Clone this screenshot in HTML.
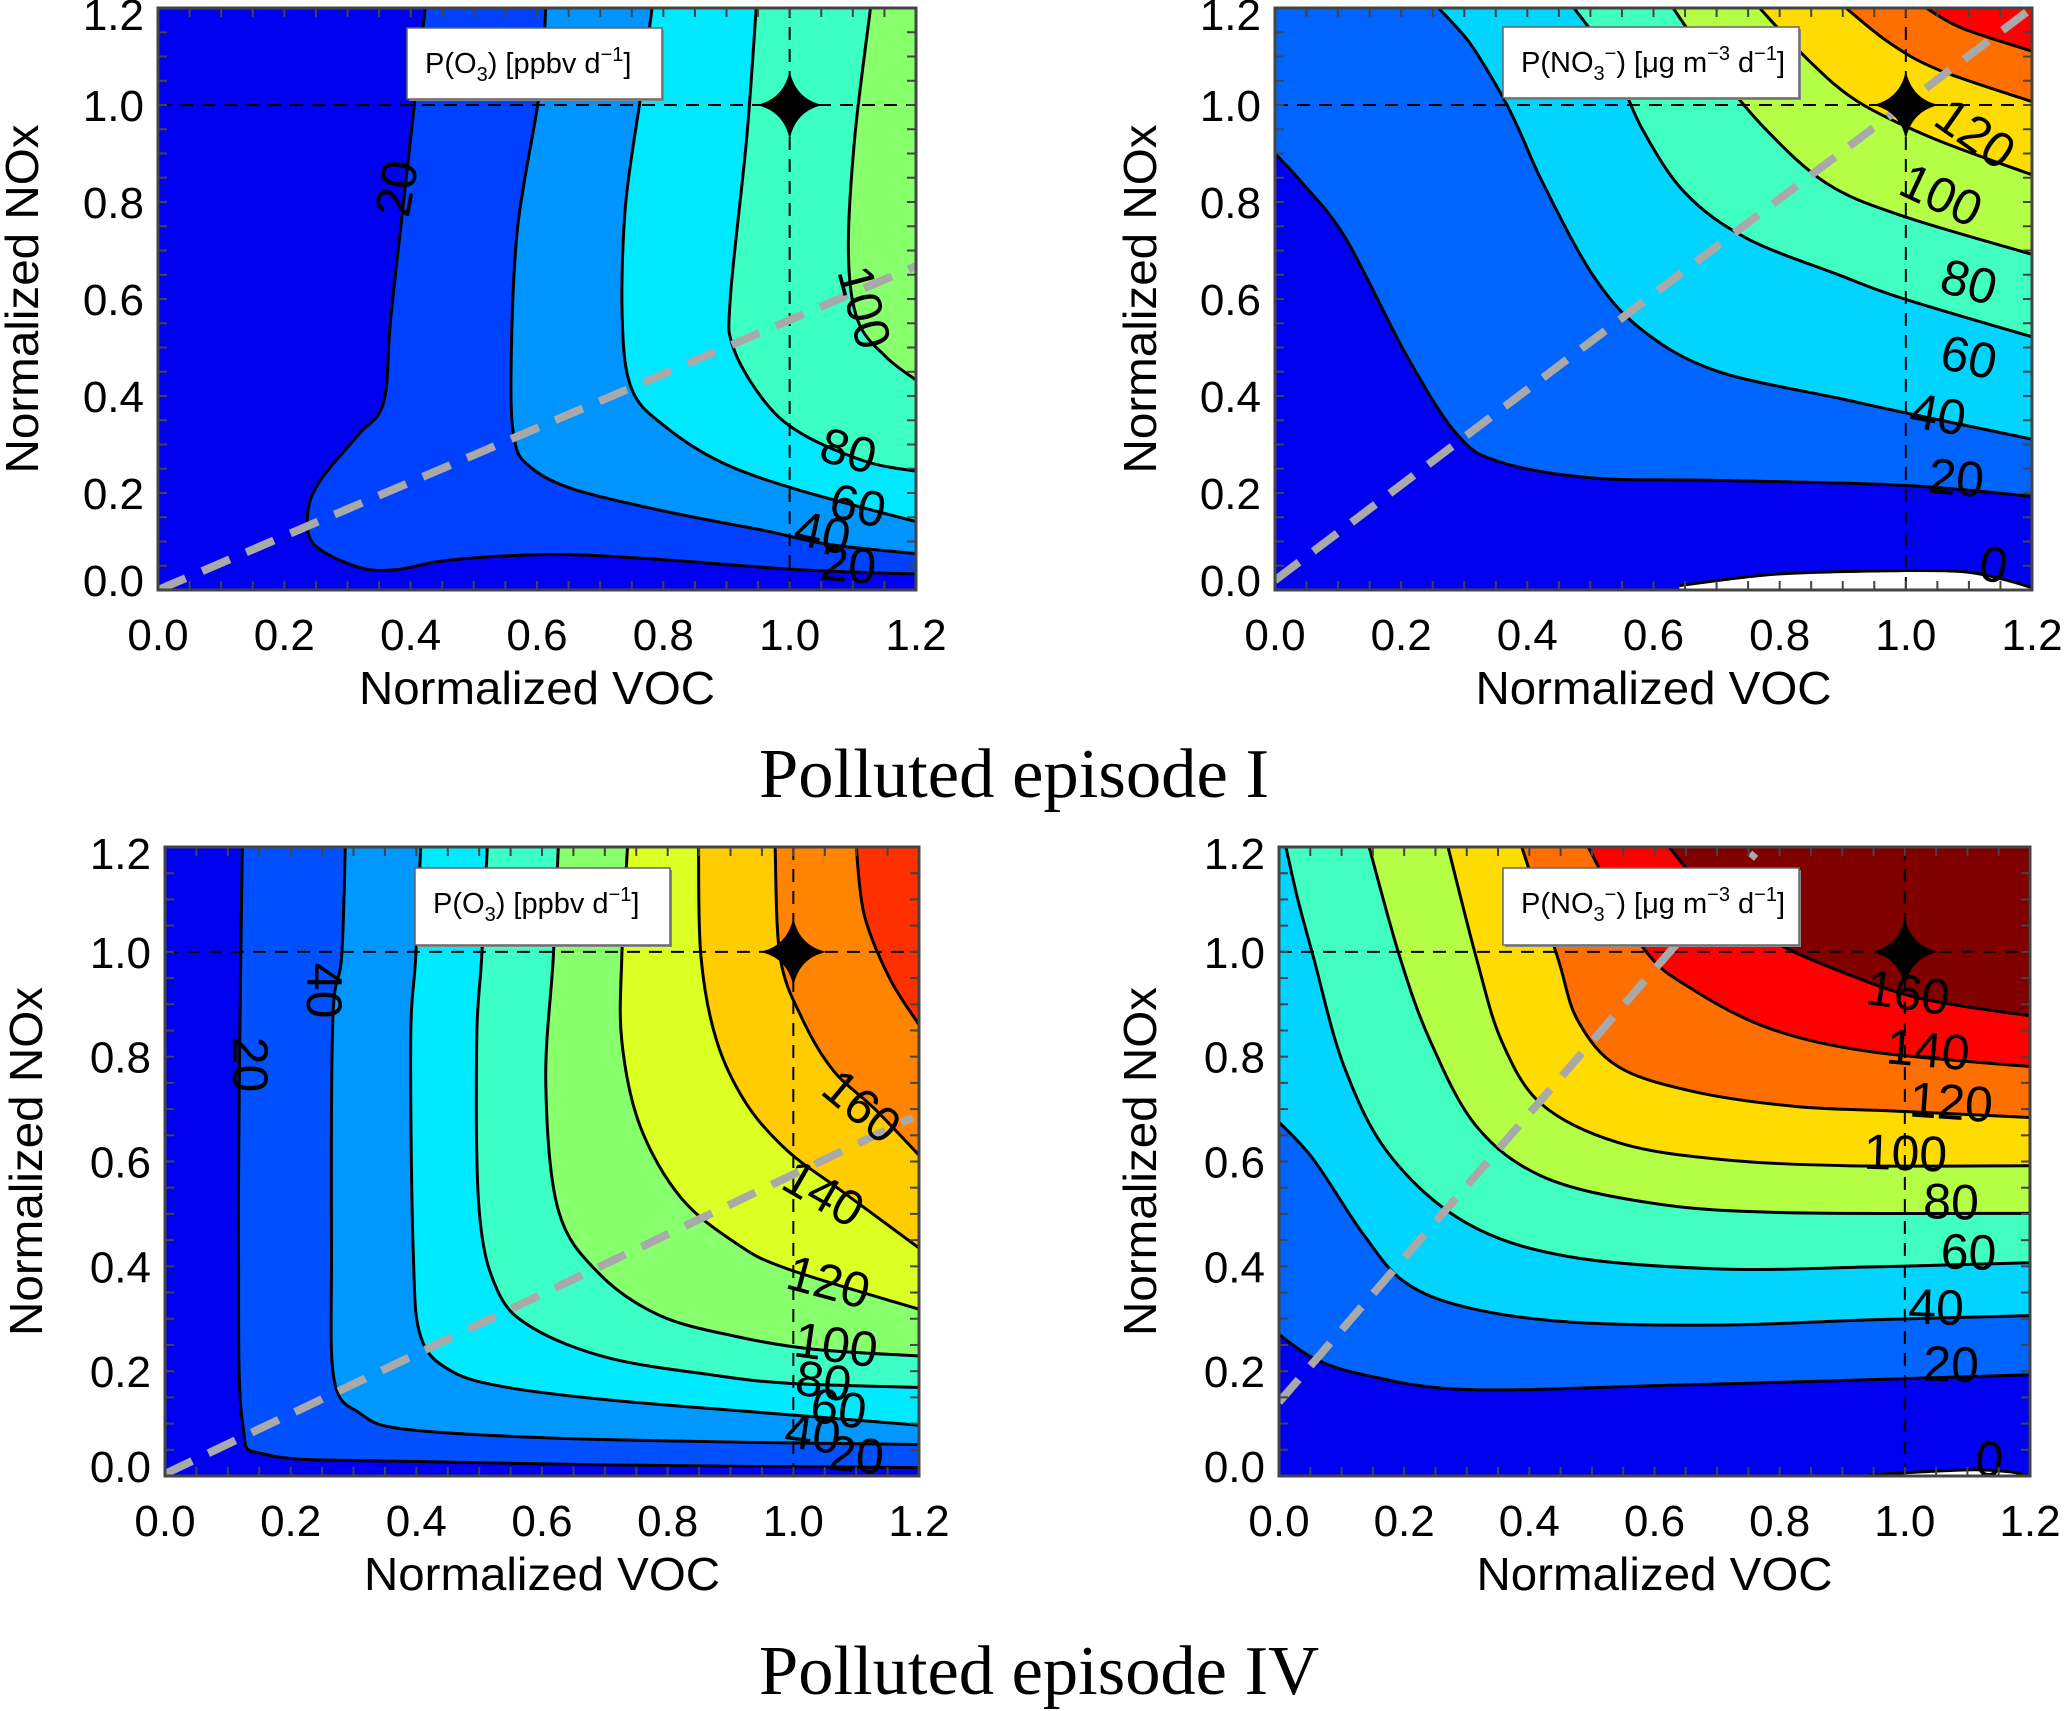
<!DOCTYPE html>
<html><head><meta charset="utf-8"><title>Ozone and nitrate production isopleths</title>
<style>
html,body{margin:0;padding:0;background:#fff;}
svg{display:block;}
text{font-family:"Liberation Sans",sans-serif;}
</style></head>
<body>
<svg id="fig" xmlns="http://www.w3.org/2000/svg" width="2067" height="1711" viewBox="0 0 2067 1711">
<text x="1014" y="797" font-family="Liberation Serif, serif" font-size="70" text-anchor="middle" textLength="510" lengthAdjust="spacingAndGlyphs" style="font-family:'Liberation Serif',serif">Polluted episode I</text>
<text x="1039" y="1694" font-size="70" text-anchor="middle" textLength="560" lengthAdjust="spacingAndGlyphs" style="font-family:'Liberation Serif',serif">Polluted episode IV</text>
</svg>
<script>
// ---------- DATA (data units: normalized VOC, normalized NOx) ----------
const axisTicks = [0.0, 0.2, 0.4, 0.6, 0.8, 1.0, 1.2];
const axisTickLabels = ["0.0","0.2","0.4","0.6","0.8","1.0","1.2"];

// Panel TL: P(O3) episode I
const tlLevels = [20, 40, 60, 80, 100];
const tlColors = ["#0000f0","#0040ff","#0094ff","#00e8ff","#3cffc4","#88ff6c"];
const tlContours = [
  [0.423,1.2, 0.408,1.026, 0.388,0.791, 0.368,0.555, 0.357,0.386, 0.317,0.32, 0.257,0.226, 0.237,0.16, 0.247,0.094, 0.317,0.047, 0.378,0.042, 0.458,0.061, 0.609,0.073, 0.76,0.066, 1.012,0.042, 1.2,0.033],
  [0.614,1.2, 0.604,1.026, 0.569,0.744, 0.559,0.461, 0.564,0.311, 0.589,0.254, 0.66,0.207, 0.811,0.16, 0.962,0.122, 1.062,0.094, 1.2,0.075],
  [0.782,1.2, 0.765,1.026, 0.74,0.791, 0.735,0.555, 0.75,0.414, 0.801,0.339, 0.891,0.264, 1.012,0.207, 1.2,0.141],
  [0.947,1.2, 0.932,0.932, 0.906,0.602, 0.911,0.499, 0.962,0.386, 1.022,0.32, 1.123,0.264, 1.2,0.245],
  [1.128,1.2, 1.103,0.932, 1.093,0.696, 1.108,0.555, 1.153,0.48, 1.2,0.433]
];
const tlLabelText = ["20","100","80","60","40","20"];
const tlLabelPos = [0.378,0.828, 1.118,0.583, 1.093,0.287, 1.108,0.174, 1.052,0.118, 1.093,0.052];
const tlLabelRot = [-80, 75, 15, 12, 12, 5];
const tlZero = [];
const tlRidge = [0, 0, 1.2, 0.668];

// Panel TR: P(NO3-) episode I
const trLevels = [20, 40, 60, 80, 100, 120, 140];
const trColors = ["#0000f0","#0064ff","#00d4ff","#40ffc0","#b4ff46","#ffdc00","#ff6e00","#ff0000"];
const trContours = [
  [0,0.9, 0.044,0.838, 0.112,0.725, 0.21,0.48, 0.289,0.32, 0.357,0.264, 0.504,0.231, 0.699,0.226, 0.993,0.216, 1.2,0.193],
  [0.259,1.2, 0.308,1.129, 0.357,1.026, 0.386,0.951, 0.425,0.838, 0.504,0.649, 0.582,0.536, 0.699,0.452, 0.895,0.395, 0.993,0.367, 1.2,0.311],
  [0.474,1.2, 0.533,1.092, 0.582,0.951, 0.65,0.819, 0.748,0.725, 0.895,0.649, 0.993,0.602, 1.2,0.522],
  [0.631,1.2, 0.699,1.073, 0.777,0.951, 0.875,0.838, 0.993,0.772, 1.2,0.692],
  [0.768,1.2, 0.846,1.092, 0.924,1.007, 1.042,0.932, 1.2,0.856],
  [0.905,1.2, 0.973,1.129, 1.051,1.073, 1.2,1.007],
  [1.032,1.2, 1.09,1.158, 1.2,1.111]
];
const trLabelText = ["120","100","80","60","40","20","0"];
const trLabelPos = [1.11,0.941, 1.056,0.814, 1.1,0.635, 1.1,0.48, 1.051,0.362, 1.08,0.231, 1.139,0.052];
const trLabelRot = [35, 25, 15, 12, 10, 5, 10];
const trZero = [0.641,0.009, 0.797,0.033, 0.993,0.04, 1.09,0.038, 1.149,0.024, 1.2,0.005];
const trRidge = [0, 0.02, 1.2, 1.2];

// Panel BL: P(O3) episode IV
const blLevels = [20, 40, 60, 80, 100, 120, 140, 160, 180];
const blColors = ["#0000f0","#0050ff","#0098ff","#00eaff","#3cffc8","#88ff6c","#dcff24","#ffcc00","#ff8400","#ff3000"];
const blContours = [
  [0.123,1.2, 0.119,0.83, 0.117,0.43, 0.123,0.105, 0.164,0.04, 0.383,0.028, 0.788,0.02, 1.2,0.016],
  [0.287,1.2, 0.281,0.99, 0.267,0.87, 0.265,0.43, 0.269,0.185, 0.31,0.12, 0.383,0.089, 0.626,0.072, 0.95,0.064, 1.2,0.06],
  [0.407,1.2, 0.399,0.99, 0.391,0.83, 0.395,0.43, 0.407,0.266, 0.456,0.2, 0.545,0.169, 0.707,0.145, 0.95,0.121, 1.2,0.097],
  [0.513,1.2, 0.504,0.99, 0.496,0.83, 0.5,0.507, 0.529,0.354, 0.586,0.282, 0.707,0.225, 0.869,0.193, 0.991,0.177, 1.2,0.169],
  [0.626,1.2, 0.618,0.99, 0.606,0.749, 0.626,0.507, 0.691,0.386, 0.788,0.306, 0.91,0.266, 1.032,0.242, 1.2,0.229],
  [0.736,1.2, 0.727,0.99, 0.727,0.83, 0.756,0.668, 0.821,0.531, 0.91,0.443, 0.991,0.395, 1.2,0.318],
  [0.849,1.2, 0.853,0.99, 0.878,0.83, 0.926,0.709, 0.991,0.62, 1.072,0.548, 1.2,0.435],
  [0.971,1.2, 0.979,0.99, 1.015,0.87, 1.064,0.773, 1.129,0.701, 1.2,0.612],
  [1.1,1.2, 1.113,1.07, 1.153,0.95, 1.2,0.861]
];
const blLabelText = ["20","40","160","140","120","100","80","60","40","20"];
const blLabelPos = [0.135,0.785, 0.253,0.926, 1.109,0.705, 1.048,0.539, 1.056,0.37, 1.068,0.25, 1.048,0.181, 1.072,0.129, 1.031,0.081, 1.1,0.04];
const blLabelRot = [90, 90, 40, 30, 15, 8, 8, 8, 8, 5];
const blZero = [];
const blRidge = [0, 0.004, 1.19, 0.684];

// Panel BR: P(NO3-) episode IV
const brLevels = [20, 40, 60, 80, 100, 120, 140, 160];
const brColors = ["#0000f0","#0064ff","#00d4ff","#40ffc0","#b4ff46","#ffdc00","#ff6e00","#ff0000","#800000"];
const brContours = [
  [0,0.27, 0.055,0.225, 0.136,0.193, 0.299,0.165, 0.623,0.173, 0.948,0.184, 1.2,0.193],
  [0,0.675, 0.055,0.604, 0.136,0.459, 0.201,0.37, 0.299,0.322, 0.461,0.294, 0.705,0.288, 0.948,0.298, 1.2,0.306],
  [0.011,1.2, 0.03,1.1, 0.055,0.99, 0.104,0.781, 0.177,0.612, 0.299,0.483, 0.461,0.419, 0.705,0.395, 0.948,0.399, 1.2,0.407],
  [0.144,1.2, 0.193,0.99, 0.242,0.829, 0.315,0.668, 0.42,0.572, 0.583,0.523, 0.786,0.503, 1.2,0.501],
  [0.27,1.2, 0.315,0.99, 0.356,0.829, 0.42,0.709, 0.542,0.636, 0.705,0.604, 0.907,0.592, 1.2,0.592],
  [0.388,1.2, 0.445,0.99, 0.477,0.87, 0.542,0.781, 0.664,0.733, 0.826,0.705, 0.989,0.696, 1.2,0.684],
  [0.494,1.2, 0.583,1.006, 0.664,0.926, 0.786,0.853, 0.948,0.809, 1.2,0.781],
  [0.623,1.2, 0.688,1.111, 0.786,1.023, 0.907,0.958, 1.029,0.91, 1.2,0.878]
];
const brLabelText = ["160","140","120","100","80","60","40","20","0"];
const brLabelPos = [1.005,0.922, 1.037,0.813, 1.074,0.713, 1.001,0.616, 1.074,0.523, 1.102,0.427, 1.05,0.322, 1.074,0.213, 1.135,0.032];
const brLabelRot = [8, 5, 4, 2, 2, 2, 2, 2, 5];
const brZero = [0.94,0.002, 1.029,0.008, 1.11,0.012, 1.167,0.008, 1.2,0];
const brRidge = [0, 0.141, 0.761, 1.188];

// ---------- LAYOUT ----------
const NS = "http://www.w3.org/2000/svg";
const svg = document.getElementById('fig');
function mk(tag, attrs, parent) {
  const e = document.createElementNS(NS, tag);
  for (const k in attrs) e.setAttribute(k, attrs[k]);
  (parent || svg).appendChild(e);
  return e;
}
function pairs(a) { const r = []; for (let i = 0; i < a.length; i += 2) r.push([a[i], a[i+1]]); return r; }
function smoothPath(pts) {
  let d = "M" + pts[0][0].toFixed(1) + "," + pts[0][1].toFixed(1);
  for (let i = 0; i < pts.length - 1; i++) {
    const p0 = pts[i-1] || pts[i], p1 = pts[i], p2 = pts[i+1], p3 = pts[i+2] || p2;
    const c1 = [p1[0] + (p2[0]-p0[0])/6, p1[1] + (p2[1]-p0[1])/6];
    const c2 = [p2[0] - (p3[0]-p1[0])/6, p2[1] - (p3[1]-p1[1])/6];
    d += " C" + c1[0].toFixed(1) + "," + c1[1].toFixed(1) + " " + c2[0].toFixed(1) + "," + c2[1].toFixed(1) + " " + p2[0].toFixed(1) + "," + p2[1].toFixed(1);
  }
  return d;
}

function drawPanel(p) {
  const g = mk('g', {});
  
  
  const sx = v => p.x0 + (v / 1.2) * (p.x1 - p.x0);
  const sy = v => p.y1 - (v / 1.2) * (p.y1 - p.y0);
  const clipId = p.name + '-clip';
  const cp = mk('clipPath', {id: clipId}, g);
  mk('rect', {x: p.x0, y: p.y0, width: p.x1 - p.x0, height: p.y1 - p.y0}, cp);
  const plot = mk('g', {'clip-path': 'url(#' + clipId + ')'}, g);
  
  
  const bg = mk('rect', {x: p.x0, y: p.y0, width: p.x1 - p.x0, height: p.y1 - p.y0, fill: p.colors[0]}, plot);
  
  
  p.contours.forEach((c, i) => {
    const pts = pairs(c).map(q => [sx(q[0]), sy(q[1])]);
    const first = pairs(c)[0];
    let d = smoothPath(pts) + " L" + sx(1.2) + "," + sy(1.2);
    if (first[0] < 0.005) d += " L" + sx(0) + "," + sy(1.2);
    d += " Z";
    const band = mk('path', {d: d, fill: p.colors[i+1], stroke: 'none'}, plot);
    
    
  });
  if (p.zero.length) {
    const zp = pairs(p.zero).map(q => [sx(q[0]), sy(q[1])]);
    const d = smoothPath(zp) + " L" + sx(1.2) + "," + sy(0) + " L" + zp[0][0] + "," + sy(0) + " Z";
    const zr = mk('path', {d: d, fill: '#ffffff'}, plot);
    
    
    const zl = mk('path', {d: smoothPath(zp), fill: 'none', stroke: '#000', 'stroke-width': 3}, plot);
    
    
  }
  p.contours.forEach((c, i) => {
    const pts = pairs(c).map(q => [sx(q[0]), sy(q[1])]);
    const ln = mk('path', {d: smoothPath(pts), fill: 'none', stroke: '#000', 'stroke-width': 3}, plot);
    
    
  });
  const vl = mk('line', {x1: sx(1), y1: sy(0), x2: sx(1), y2: sy(1.2), stroke: '#000', 'stroke-width': 2, 'stroke-dasharray': '13 9'}, plot);
  
  
  const hl = mk('line', {x1: sx(0), y1: sy(1), x2: sx(1.2), y2: sy(1), stroke: '#000', 'stroke-width': 2, 'stroke-dasharray': '13 9'}, plot);
  
  
  const rl = mk('line', {x1: sx(p.ridge[0]), y1: sy(p.ridge[1]), x2: sx(p.ridge[2]), y2: sy(p.ridge[3]), stroke: '#a9a9a9', 'stroke-width': 8, 'stroke-dasharray': '30 18'}, plot);
  
  
  p.labelText.forEach((t, i) => {
    const lx = sx(p.labelPos[2*i]), ly = sy(p.labelPos[2*i+1]);
    const tx = mk('text', {x: lx, y: ly, 'font-size': 50, 'text-anchor': 'middle', 'dominant-baseline': 'central', transform: 'rotate(' + p.labelRot[i] + ' ' + lx + ' ' + ly + ')'}, plot);
    tx.textContent = t;
    
    
  });
  const cx = sx(1), cy = sy(1), rx = 33, ry = 34, k = 6;
  const st = mk('path', {d: `M${cx},${cy-ry} Q${cx+k},${cy-k} ${cx+rx},${cy} Q${cx+k},${cy+k} ${cx},${cy+ry} Q${cx-k},${cy+k} ${cx-rx},${cy} Q${cx-k},${cy-k} ${cx},${cy-ry} Z`, fill: '#000'}, plot);
  
  
  const fr = mk('rect', {x: p.x0, y: p.y0, width: p.x1 - p.x0, height: p.y1 - p.y0, fill: 'none', stroke: '#444', 'stroke-width': 3}, g);
  
  
  for (let v = 0; v <= 1.2001; v += 0.05) {
    mk('line', {x1: sx(v), y1: p.y1, x2: sx(v), y2: p.y1 - 9, stroke: '#444', 'stroke-width': 2}, g);
    mk('line', {x1: sx(v), y1: p.y0, x2: sx(v), y2: p.y0 + 9, stroke: '#444', 'stroke-width': 2}, g);
    mk('line', {x1: p.x0, y1: sy(v), x2: p.x0 + 9, y2: sy(v), stroke: '#444', 'stroke-width': 2}, g);
    mk('line', {x1: p.x1, y1: sy(v), x2: p.x1 - 9, y2: sy(v), stroke: '#444', 'stroke-width': 2}, g);
  }
  axisTicks.forEach((v, i) => {
    const xt = mk('text', {x: sx(v), y: p.y1 + 60, 'font-size': 44, 'text-anchor': 'middle'}, g);
    xt.textContent = axisTickLabels[i];
    
    
    const yv = Math.min(Math.max(sy(v), p.y0 + 6), p.y1 - 10);
    const yt = mk('text', {x: p.x0 - 14, y: yv + 16, 'font-size': 44, 'text-anchor': 'end'}, g);
    yt.textContent = axisTickLabels[i];
    
    
  });
  const xTitle = mk('text', {x: (p.x0 + p.x1) / 2, y: p.y1 + 114, 'font-size': 46, 'text-anchor': 'middle', textLength: 356, lengthAdjust: 'spacingAndGlyphs'}, g);
  xTitle.textContent = 'Normalized VOC';
  
  
  const ty = (p.y0 + p.y1) / 2, tx0 = p.ytx;
  const yTitle = mk('text', {x: tx0, y: ty, 'font-size': 46, 'text-anchor': 'middle', textLength: 349, lengthAdjust: 'spacingAndGlyphs', transform: 'rotate(-90 ' + tx0 + ' ' + ty + ')'}, g);
  yTitle.textContent = 'Normalized NOx';
  
  
  const lg = mk('g', {}, g);
  
  
  mk('rect', {x: p.lx0 + 2, y: p.ly0 + 2, width: p.lx1 - p.lx0, height: p.ly1 - p.ly0, fill: '#888'}, lg);
  mk('rect', {x: p.lx0, y: p.ly0, width: p.lx1 - p.lx0, height: p.ly1 - p.ly0, fill: '#fff', stroke: '#666', 'stroke-width': 1.5}, lg);
  const lt = mk('text', {x: p.lx0 + 18, y: p.ly0 + 45, 'font-size': 29}, lg);
  if (p.kind === 'o3') {
    lt.innerHTML = 'P(O<tspan font-size="20" dy="8">3</tspan><tspan dy="-8">) [ppbv d</tspan><tspan font-size="20" dy="-12">−1</tspan><tspan dy="12">]</tspan>';
  } else {
    lt.innerHTML = 'P(NO<tspan font-size="20" dy="8">3</tspan><tspan font-size="20" dy="-20">−</tspan><tspan dy="12">) [μg m</tspan><tspan font-size="20" dy="-12">−3</tspan><tspan dy="12"> d</tspan><tspan font-size="20" dy="-12">−1</tspan><tspan dy="12">]</tspan>';
  }
}

drawPanel({name: 'panel-o3-episode-i', kind: 'o3', x0: 158, x1: 916, y0: 8, y1: 590, ytx: 38,
  levels: tlLevels, colors: tlColors, contours: tlContours, labelText: tlLabelText, labelPos: tlLabelPos, labelRot: tlLabelRot, zero: tlZero, ridge: tlRidge,
  lx0: 407, lx1: 662, ly0: 28, ly1: 99});
drawPanel({name: 'panel-no3-episode-i', kind: 'no3', x0: 1275, x1: 2032, y0: 8, y1: 590, ytx: 1156,
  levels: trLevels, colors: trColors, contours: trContours, labelText: trLabelText, labelPos: trLabelPos, labelRot: trLabelRot, zero: trZero, ridge: trRidge,
  lx0: 1503, lx1: 1799, ly0: 27, ly1: 98});
drawPanel({name: 'panel-o3-episode-iv', kind: 'o3', x0: 165, x1: 919, y0: 847, y1: 1476, ytx: 42,
  levels: blLevels, colors: blColors, contours: blContours, labelText: blLabelText, labelPos: blLabelPos, labelRot: blLabelRot, zero: blZero, ridge: blRidge,
  lx0: 415, lx1: 670, ly0: 868, ly1: 945});
drawPanel({name: 'panel-no3-episode-iv', kind: 'no3', x0: 1279, x1: 2030, y0: 847, y1: 1476, ytx: 1156,
  levels: brLevels, colors: brColors, contours: brContours, labelText: brLabelText, labelPos: brLabelPos, labelRot: brLabelRot, zero: brZero, ridge: brRidge,
  lx0: 1503, lx1: 1799, ly0: 868, ly1: 945});
</script>
</body></html>
